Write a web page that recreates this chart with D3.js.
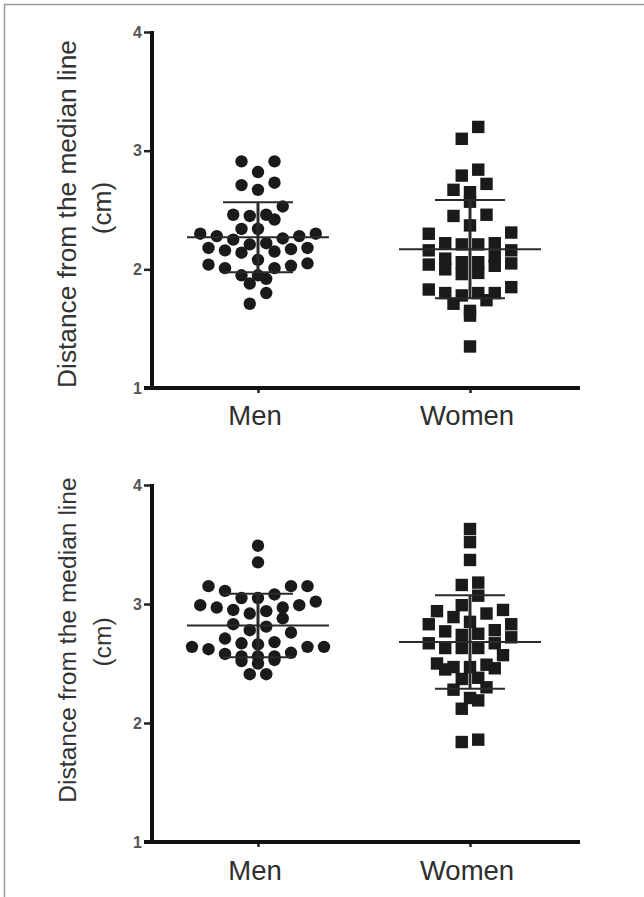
<!DOCTYPE html>
<head>
  <meta charset="utf-8">
  <script src="https://d3js.org/d3.v7.min.js"></script>
  <style>
    body { margin: 0; background: #fff; }
    svg { display: block; }
    text { font-family: "Liberation Sans", Arial, sans-serif; }
  </style>
</head>

<body>
  <svg width="644" height="897"></svg>

  <script>
    // ---- data ----
    const categories = ['Men', 'Women'];
    const yTicks = [1, 2, 3, 4];
    const yTitle = ['Distance from the median line', '(cm)'];

    // upper panel
    const topMen = [2.91, 2.91, 2.82, 2.73, 2.71, 2.67, 2.53, 2.46, 2.46, 2.45,
      2.42, 2.34, 2.34, 2.30, 2.30, 2.28, 2.28, 2.26, 2.25, 2.22, 2.21, 2.18,
      2.18, 2.17, 2.16, 2.15, 2.14, 2.08, 2.05, 2.04, 2.03, 2.01, 2.01, 1.95,
      1.95, 1.92, 1.88, 1.80, 1.71];
    const topWomen = [3.20, 3.10, 2.84, 2.79, 2.72, 2.67, 2.65, 2.57, 2.46, 2.45,
      2.37, 2.31, 2.30, 2.22, 2.22, 2.21, 2.21, 2.16, 2.16, 2.11, 2.09, 2.06,
      2.06, 2.05, 2.04, 2.03, 2.00, 1.97, 1.96, 1.85, 1.83, 1.80, 1.80, 1.80,
      1.78, 1.74, 1.71, 1.65, 1.61, 1.35];
    const topMean = [2.27, 2.17];
    const topSd = [0.295, 0.414];

    // lower panel
    const bottomMen = [3.49, 3.35, 3.15, 3.15, 3.15, 3.11, 3.08, 3.05, 3.05, 3.02,
      2.99, 2.99, 2.97, 2.97, 2.95, 2.94, 2.92, 2.88, 2.83, 2.81, 2.78, 2.76,
      2.71, 2.68, 2.67, 2.66, 2.64, 2.64, 2.64, 2.62, 2.59, 2.58, 2.56, 2.56,
      2.56, 2.53, 2.52, 2.50, 2.41, 2.41];
    const bottomWomen = [3.63, 3.52, 3.37, 3.18, 3.16, 3.07, 2.99, 2.95, 2.94, 2.92,
      2.89, 2.85, 2.83, 2.83, 2.78, 2.77, 2.75, 2.74, 2.72, 2.67, 2.67, 2.63,
      2.63, 2.63, 2.57, 2.50, 2.49, 2.47, 2.47, 2.46, 2.45, 2.38, 2.37, 2.30,
      2.28, 2.21, 2.19, 2.12, 1.86, 1.84];
    const bottomMean = [2.82, 2.68];
    const bottomSd = [0.267, 0.393];

    // ---- layout ----
    const svg = d3.select('svg');
    const axisX = 152;
    const panels = [
      { groups: [topMen, topWomen], mean: topMean, sd: topSd,
        top: 32, bottom: 388, titleSize: 26.3, titleY: 214, capsY: 208, catY: 425 },
      { groups: [bottomMen, bottomWomen], mean: bottomMean, sd: bottomSd,
        top: 485, bottom: 842, titleSize: 24.6, titleY: 640, capsY: 642, catY: 880 }
    ];

    const x = d3.scalePoint()
      .domain(categories)
      .range([axisX, 576])
      .padding(0.5);

    // outer frame (top and left edge)
    svg.append('path')
      .attr('d', 'M4.5,897V4.5H644')
      .attr('fill', 'none')
      .attr('stroke', '#999')
      .attr('stroke-width', 1.5);

    // prism-like row layout: values that fall close together share a row,
    // lowest in the middle, highest at the ends
    function rowLayout(values, rowH, step) {
      const pts = values.map(v => ({ v })).sort((a, b) => b.v - a.v);
      const rows = [];
      let cur = null;
      pts.forEach(p => {
        if (!cur || cur.start - p.v > rowH) {
          cur = { start: p.v, pts: [] };
          rows.push(cur);
        }
        cur.pts.push(p);
      });
      rows.forEach(r => {
        const n = r.pts.length;
        const asc = r.pts.slice().sort((a, b) => a.v - b.v);
        const offs = d3.range(n).map(k => k - (n - 1) / 2)
          .sort((a, b) => Math.abs(a) - Math.abs(b) || a - b);
        asc.forEach((p, k) => { p.dx = offs[k] * step; });
      });
      return pts;
    }

    panels.forEach(panel => {
      const g = svg.append('g');
      const y = d3.scaleLinear()
        .domain([1, 4])
        .range([panel.bottom, panel.top]);
      const rowH = 13 / (y(1) - y(2));

      // y axis
      const yAxis = g.append('g')
        .attr('transform', `translate(${axisX},0)`)
        .call(d3.axisLeft(y).tickValues(yTicks).tickSize(8).tickPadding(2).tickFormat(d3.format('d')));
      yAxis.select('.domain').remove();
      yAxis.selectAll('.tick line').attr('stroke', '#222').attr('stroke-width', 2.5);
      yAxis.selectAll('.tick text')
        .attr('fill', '#555')
        .style('font-size', '16px')
        .style('font-weight', 'bold')
        .style('font-family', '"Liberation Sans", Arial, sans-serif');
      g.append('line')
        .attr('x1', axisX).attr('x2', axisX)
        .attr('y1', y(4) - 1).attr('y2', y(1))
        .attr('stroke', '#111').attr('stroke-width', 4);

      // x axis
      const xAxis = g.append('g')
        .attr('transform', `translate(0,${panel.bottom})`)
        .call(d3.axisBottom(x).tickSize(5).tickFormat(''));
      xAxis.select('.domain').remove();
      xAxis.selectAll('.tick line').attr('stroke', '#222').attr('stroke-width', 2.5);
      g.append('line')
        .attr('x1', axisX - 8).attr('x2', 580)
        .attr('y1', panel.bottom).attr('y2', panel.bottom)
        .attr('stroke', '#111').attr('stroke-width', 4);

      g.selectAll('.cat')
        .data(categories)
        .join('text')
        .attr('class', 'cat')
        .attr('x', d => x(d) - 3)
        .attr('y', panel.catY)
        .attr('text-anchor', 'middle')
        .attr('fill', '#2e2e2e')
        .style('font-size', '27.5px')
        .text(d => d);

      // y title
      g.append('text')
        .attr('transform', `translate(76,${panel.titleY})rotate(-90)`)
        .attr('text-anchor', 'middle')
        .attr('fill', '#333')
        .style('font-size', panel.titleSize + 'px')
        .text(yTitle[0]);
      g.append('text')
        .attr('transform', `translate(111,${panel.capsY})rotate(-90)`)
        .attr('text-anchor', 'middle')
        .attr('fill', '#333')
        .style('font-size', panel.titleSize + 'px')
        .text(yTitle[1]);

      // points
      panel.groups.forEach((vals, gi) => {
        const cx = x(categories[gi]);
        const pts = rowLayout(vals, rowH, 16.5);
        if (gi === 0) {
          g.selectAll(null)
            .data(pts)
            .join('circle')
            .attr('cx', d => cx + d.dx)
            .attr('cy', d => y(d.v))
            .attr('r', 6.2)
            .attr('fill', '#1a1a1a');
        } else {
          g.selectAll(null)
            .data(pts)
            .join('rect')
            .attr('x', d => cx + d.dx - 6.2)
            .attr('y', d => y(d.v) - 6.2)
            .attr('width', 12.4)
            .attr('height', 12.4)
            .attr('fill', '#1a1a1a');
        }

        // mean and SD
        const m = panel.mean[gi], s = panel.sd[gi];
        const lines = [
          { x1: cx - 71, x2: cx + 71, y1: y(m), y2: y(m), w: 2 },
          { x1: cx - 35, x2: cx + 35, y1: y(m + s), y2: y(m + s), w: 2 },
          { x1: cx - 35, x2: cx + 35, y1: y(m - s), y2: y(m - s), w: 2 },
          { x1: cx, x2: cx, y1: y(m + s), y2: y(m - s), w: 3 }
        ];
        g.selectAll(null)
          .data(lines)
          .join('line')
          .attr('x1', d => d.x1).attr('x2', d => d.x2)
          .attr('y1', d => d.y1).attr('y2', d => d.y2)
          .attr('stroke', '#2a2a2a')
          .attr('stroke-width', d => d.w);
      });
    });
  </script>
</body>
